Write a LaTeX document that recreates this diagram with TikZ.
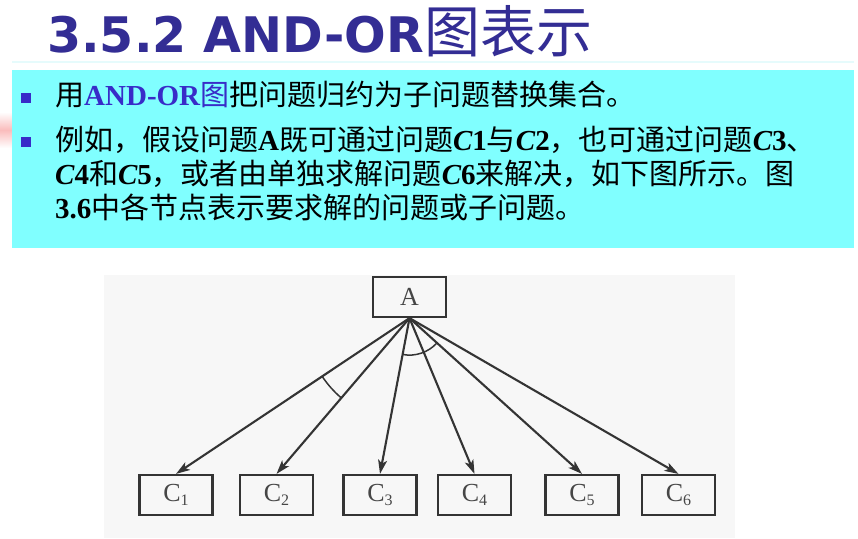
\documentclass[tikz,border=0pt]{standalone}
\usepackage{fontspec}
\setmainfont{Liberation Serif}
\newfontfamily\cjkfont{Noto Sans CJK SC}
\newfontfamily\headfont{DejaVu Sans}
\usetikzlibrary{arrows.meta,calc}

\definecolor{headblue}{RGB}{51,45,148}
\definecolor{hlblue}{RGB}{56,44,200}
\definecolor{panelcyan}{RGB}{128,255,255}
\definecolor{figbg}{RGB}{247,247,247}
\definecolor{ink}{RGB}{52,52,52}
\definecolor{labelgrey}{RGB}{70,70,70}

% stretchable glue between ideographs, used for the justified lines
\newcommand\cjkglue{\hskip 0pt plus 3pt\relax}
\XeTeXinterchartoks 1 1 = {\cjkglue}
\XeTeXinterchartoks 1 3 = {\cjkglue}
\XeTeXinterchartoks 3 1 = {\cjkglue}
\XeTeXinterchartoks 0 1 = {\cjkglue}
\XeTeXinterchartoks 1 0 = {\cjkglue}
\XeTeXinterchartoks 3 0 = {\cjkglue}
\newcommand\justline[2]{\hbox to #1{\XeTeXinterchartokenstate=1 #2}}

\newcommand\zh[1]{{\cjkfont #1}}
\newcommand\bl[1]{{\bfseries #1}}
\newcommand\ci[1]{{\bfseries\itshape C}{\bfseries #1}}
\newcommand\sub[1]{{\fontsize{16}{16}\selectfont\raisebox{-3.5pt}{#1}}}

\tikzset{
  body/.style={anchor=base west, inner sep=0pt, font=\fontsize{29}{35}\selectfont},
  bulletsq/.style={fill=hlblue, minimum size=10pt, inner sep=0pt},
  probbox/.style={draw=ink, line width=2.2pt, minimum width=73pt, minimum height=40pt,
    inner sep=0pt, text=labelgrey, font=\fontsize{26}{26}\selectfont},
  edge/.style={draw=ink, line width=2.1pt, -{Stealth[length=14pt, width=9pt, inset=3.5pt]}},
  andarc/.style={draw=ink, line width=1.5pt}
}

\begin{document}
\begin{tikzpicture}[x=1pt, y=1pt]
\useasboundingbox (0,0) rectangle (858,-538);
\fill[white] (0,0) rectangle (858,-538);

% heading
\node[anchor=base west, inner sep=0pt, text=headblue] (title) at (47,-52)
  {\fontsize{49}{55}\selectfont\headfont\bfseries 3.5.2 AND-OR{\cjkfont\mdseries\fontsize{56}{60}\selectfont 图表示}};
\draw[color={rgb,255:red,230;green,251;blue,252}, line width=2pt] (12,-62) -- (854,-62);

% text panel
\shade[top color=white, bottom color=white, middle color={rgb,255:red,250;green,188;blue,188}]
  (0,-112) rectangle (12,-148);
\fill[panelcyan] (12,-70) rectangle (854,-248);
\node[bulletsq] (b1) at (26,-98) {};
\node[bulletsq] (b2) at (26,-142) {};
\node[body] (l1) at (55,-105)
  {\zh{用}{\color{hlblue}\bl{AND-OR}\zh{图}}\zh{把问题归约为子问题替换集合。}};
\node[body] (l2) at (55,-150)
  {\justline{772pt}{\zh{例如，假设问题}\bl{A}\zh{既可通过问题}\ci{1}\zh{与}\ci{2}\zh{，也可通过问题}\ci{3}\zh{、}}};
\node[body] (l3) at (55,-184)
  {\justline{768pt}{\ci{4}\zh{和}\ci{5}\zh{，或者由单独求解问题}\ci{6}\zh{来解决，如下图所示。图}}};
\node[body] (l4) at (55,-218)
  {\bl{3.6}\zh{中各节点表示要求解的问题或子问题。}};

% AND-OR graph
\fill[figbg] (104,-275) rectangle (735,-538);
\node[probbox] (A) at (409.5,-297) {A};
\node[probbox] (C1) at (176,-495) {C\sub{1}};
\node[probbox] (C2) at (276.5,-495) {C\sub{2}};
\node[probbox] (C3) at (380,-495) {C\sub{3}};
\node[probbox] (C4) at (474.5,-495) {C\sub{4}};
\node[probbox] (C5) at (582,-495) {C\sub{5}};
\node[probbox] (C6) at (678.5,-495) {C\sub{6}};

\foreach \c in {C1,C2,C3,C4,C5,C6}
  \draw[edge] (A.south) -- (\c.north);

% AND arcs: C1--C2, and C3--C5
\draw[andarc] let \p1=($(C1.north)-(A.south)$), \p2=($(C2.north)-(A.south)$),
  \n1={atan2(\y1,\x1)}, \n2={atan2(\y2,\x2)} in
  ($(A.south)+(\n1:105pt)$) arc[start angle=\n1, end angle=\n2, radius=105pt];
\draw[andarc] let \p1=($(C3.north)-(A.south)$), \p2=($(C5.north)-(A.south)$),
  \n1={atan2(\y1,\x1)}, \n2={atan2(\y2,\x2)} in
  ($(A.south)+(\n1:37pt)$) arc[start angle=\n1, end angle=\n2, radius=37pt];
\end{tikzpicture}
\end{document}
